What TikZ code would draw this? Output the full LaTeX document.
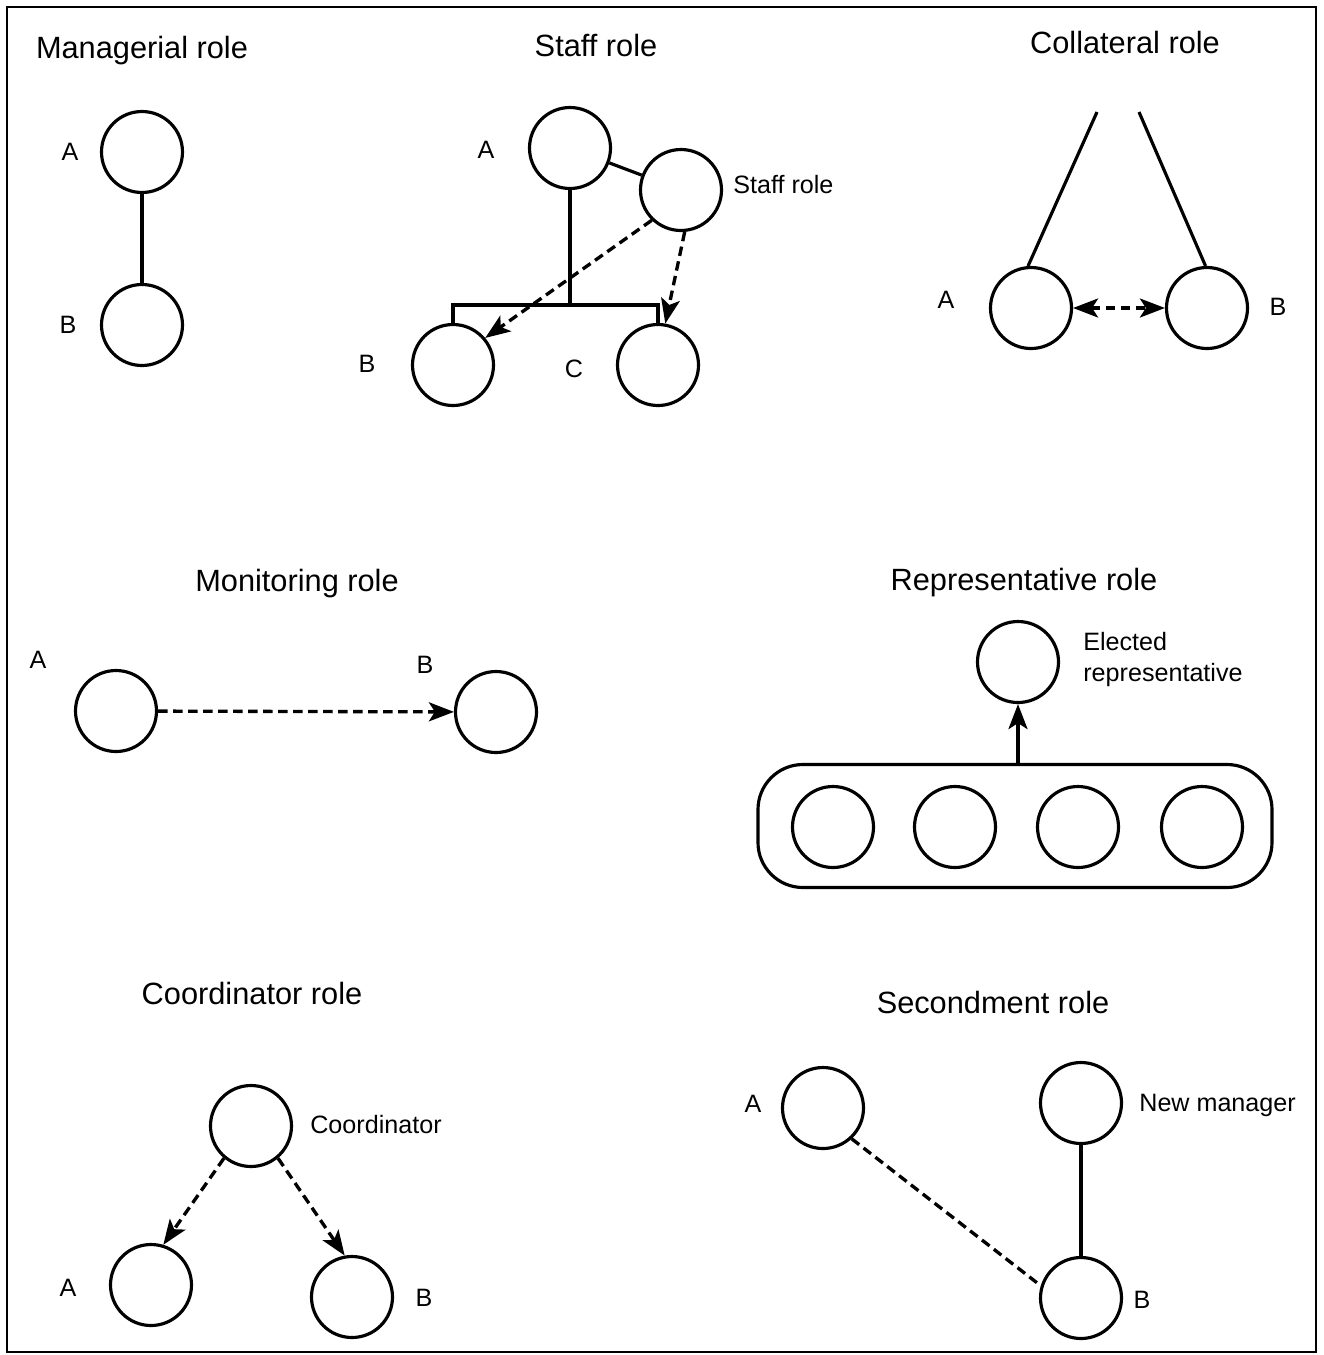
\documentclass[tikz,border=0pt]{standalone}
\usepackage{fontspec}
\setmainfont{Liberation Sans}
\usetikzlibrary{arrows.meta, positioning}

\begin{document}
\begin{tikzpicture}[x=0.2mm, y=-0.2mm,
    role/.style={circle, draw=black, line width=1.8pt, minimum size=16.2mm, inner sep=0pt},
    title/.style={anchor=base, font=\fontsize{17.5}{21}\selectfont},
    tag/.style={font=\fontsize{14.3}{17}\selectfont, inner sep=0pt},
    link/.style={line width=1.8pt},
    dashlink/.style={line width=1.9pt, dash pattern=on 1.9mm off 1.1mm},
    arrow/.style={-{Stealth[length=5mm, width=3.8mm, inset=1.2mm]}},
    group/.style={rectangle, rounded corners=9mm, draw=black, line width=1.8pt,
                  minimum width=102.8mm, minimum height=24.6mm}]

    \useasboundingbox (0,0) rectangle (1323,1355);
    \draw[line width=1.2pt] (7,7) rectangle (1316,1352);

    % Managerial role (top left)
    \node[title] (manT) at (142,58) {Managerial role};
    \node[role] (manA) at (142,152) {};
    \node[role] (manB) at (142,325) {};
    \node[tag] at (70,152) {A};
    \node[tag] at (68,325) {B};
    \draw[link] (manA) -- (manB);

    % Staff role (top middle)
    \node[title] (stfT) at (596,56) {Staff role};
    \node[role] (stfA) at (570,148) {};
    \node[role] (stfS) at (681,190) {};
    \node[role] (stfB) at (453,365) {};
    \node[role] (stfC) at (658,365) {};
    \node[tag] at (486,150) {A};
    \node[tag] at (367,364) {B};
    \node[tag] at (574,369) {C};
    \node[tag, anchor=west] at (733,185) {Staff role};
    \coordinate (stfBar) at (570,305);
    \draw[link] (stfA) -- (stfS);
    \draw[link] (stfA) -- (stfBar);
    \draw[link] (stfB.north) -- (stfB.north |- stfBar) -- (stfC.north |- stfBar) -- (stfC.north);
    \draw[dashlink, arrow] (stfS.226) -- (stfB.40);
    \draw[dashlink, arrow] (stfS.275) -- (stfC.80);

    % Collateral role (top right)
    \node[title] (colT) at (1125,53) {Collateral role};
    \node[role] (colA) at (1031,308) {};
    \node[role] (colB) at (1207,308) {};
    \node[tag] at (946,300) {A};
    \node[tag] at (1278,307) {B};
    \coordinate (colL) at (1097,112);
    \coordinate (colR) at (1139,112);
    \draw[link] (colA.94) -- (colL);
    \draw[link] (colB.92) -- (colR);
    \draw[dashlink, {Stealth[length=5mm, width=3.8mm, inset=1.2mm]}-{Stealth[length=5mm, width=3.8mm, inset=1.2mm]}] (colA) -- (colB);

    % Monitoring role (middle left)
    \node[title] (monT) at (297,591) {Monitoring role};
    \node[role] (monA) at (116,711) {};
    \node[role] (monB) at (496,712) {};
    \node[tag] at (38,660) {A};
    \node[tag] at (425,665) {B};
    \draw[dashlink, arrow] (monA) -- (monB);

    % Representative role (middle right)
    \node[title] (repT) at (1024,590) {Representative role};
    \node[role] (repE) at (1018,662) {};
    \node[group] (repG) at (1015,826) {};
    \foreach \x [count=\i] in {833,955,1078,1202}
        \node[role] (rep\i) at (\x,827) {};
    \node[tag, anchor=base west] at (1083,650) {Elected};
    \node[tag, anchor=base west] at (1083,681) {representative};
    \draw[link, arrow] (repG.north -| repE) -- (repE);

    % Coordinator role (bottom left)
    \node[title] (corT) at (252,1004) {Coordinator role};
    \node[role] (corC) at (251,1126) {};
    \node[role] (corA) at (151,1285) {};
    \node[role] (corB) at (352,1297) {};
    \node[tag, anchor=base west] at (310,1133) {Coordinator};
    \node[tag] at (68,1288) {A};
    \node[tag] at (424,1298) {B};
    \draw[dashlink, arrow] (corC.230) -- (corA.73);
    \draw[dashlink, arrow] (corC.310) -- (corB.100);

    % Secondment role (bottom right)
    \node[title] (secT) at (993,1013) {Secondment role};
    \node[role] (secA) at (823,1108) {};
    \node[role] (secN) at (1081,1103) {};
    \node[role] (secB) at (1081,1298) {};
    \node[tag] at (753,1104) {A};
    \node[tag, anchor=base west] at (1139,1111) {New manager};
    \node[tag] at (1142,1300) {B};
    \draw[link] (secN) -- (secB);
    \draw[dashlink] (secA.313) -- (secB.163);

\end{tikzpicture}
\end{document}
